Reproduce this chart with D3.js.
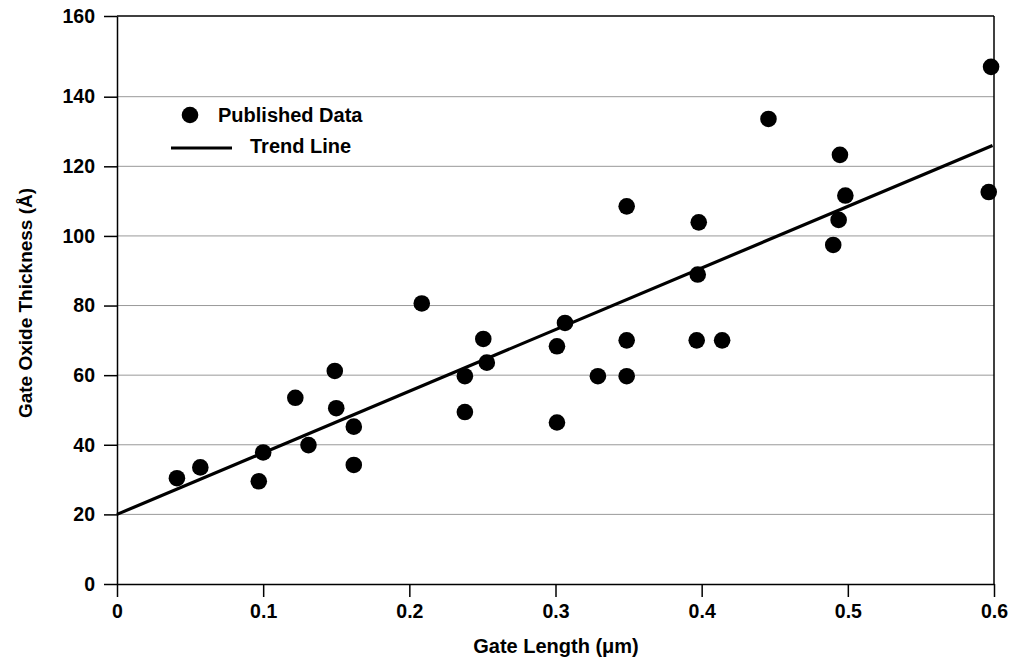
<!DOCTYPE html>
<html>
<head>
<meta charset="utf-8">
<script src="https://cdn.jsdelivr.net/npm/d3@7"></script>
<style>
  body { margin: 0; background: #fff; }
  text { font-family: "Liberation Sans", Arial, sans-serif; font-weight: bold; fill: #000; }
  .axis path, .axis line { stroke: #000; stroke-width: 1.5; }
  .grid line { stroke: #999; stroke-width: 1; }
</style>
</head>
<body>
<svg id="chart"></svg>
<script>
// published data points
const gateLength = [0.041, 0.057, 0.097, 0.100, 0.122, 0.131, 0.149, 0.150, 0.162, 0.162,
                    0.2085, 0.238, 0.238, 0.2506, 0.253,
                    0.301, 0.301, 0.3065, 0.329, 0.3487, 0.3487, 0.3487,
                    0.3966, 0.398, 0.3973, 0.414,
                    0.4457, 0.490, 0.4937, 0.4946, 0.4983, 0.5964, 0.598];
const oxideThickness = [30.4, 33.5, 29.5, 37.8, 53.5, 39.9, 61.2, 50.5, 45.2, 34.2,
                        80.6, 59.7, 49.4, 70.4, 63.6,
                        68.3, 46.4, 75.0, 59.7, 108.5, 70.0, 59.7,
                        70.0, 103.9, 88.9, 70.0,
                        133.6, 97.4, 104.6, 123.3, 111.6, 112.6, 147.4];

// trend line end points
const trendX = [0, 0.599];
const trendY = [20, 126];

const xTicks = [0, 0.1, 0.2, 0.3, 0.4, 0.5, 0.6];
const yTicks = [0, 20, 40, 60, 80, 100, 120, 140, 160];
const legendLabels = ["Published Data", "Trend Line"];

const margin = {top: 16, right: 17, bottom: 76, left: 117};
const W = 1011, H = 660;
const width = W - margin.left - margin.right;
const height = H - margin.top - margin.bottom;

const svg = d3.select("#chart").attr("width", W).attr("height", H);
const chart = svg.append("g").attr("transform", `translate(${margin.left},${margin.top})`);

const x = d3.scaleLinear().domain([0, 0.6]).range([0, width]);
// the original chart squeezes the top band a little, so the scale bends at 140
const y = d3.scaleLinear().domain([0, 140, 160]).range([height, 80.7, 0]);

// gridlines
chart.append("g").attr("class", "grid")
  .selectAll("line")
  .data(yTicks.filter(d => d > 0 && d < 160))
  .join("line")
    .attr("x1", 0).attr("x2", width)
    .attr("y1", d => y(d)).attr("y2", d => y(d));

// frame: top and right borders
chart.append("line").attr("x1", 0).attr("x2", width).attr("y1", 0).attr("y2", 0)
  .attr("stroke", "#000").attr("stroke-width", 1.5);
chart.append("line").attr("x1", width).attr("x2", width).attr("y1", 0).attr("y2", height)
  .attr("stroke", "#000").attr("stroke-width", 1.5);

// axes
const xAxis = d3.axisBottom(x).tickValues(xTicks).tickSize(13).tickSizeOuter(0).tickPadding(7)
  .tickFormat(d => d === 0 ? "0" : d3.format(".1f")(d));
const yAxis = d3.axisLeft(y).tickValues(yTicks).tickSize(13).tickSizeOuter(0).tickPadding(9)
  .tickFormat(d3.format("d"));

chart.append("g").attr("class", "axis x-axis")
  .attr("transform", `translate(0,${height})`)
  .call(xAxis)
  .call(g => g.selectAll("text").attr("font-size", 19.5));

chart.append("g").attr("class", "axis y-axis")
  .call(yAxis)
  .call(g => g.selectAll("text").attr("font-size", 19.5));

svg.selectAll(".axis").attr("font-family", null);

// axis titles
svg.append("text")
  .attr("x", 556).attr("y", 653)
  .attr("text-anchor", "middle")
  .attr("font-size", 20)
  .text("Gate Length (\u03bcm)");

svg.append("text")
  .attr("transform", "translate(32,303) rotate(-90)")
  .attr("text-anchor", "middle")
  .attr("font-size", 19)
  .text("Gate Oxide Thickness (\u00c5)");

// trend line
const line = d3.line().x(d => x(d[0])).y(d => y(d[1]));
chart.append("path")
  .datum(trendX.map((v, i) => [v, trendY[i]]))
  .attr("d", line)
  .attr("fill", "none")
  .attr("stroke", "#000")
  .attr("stroke-width", 3.2);

// data points
chart.selectAll("circle.pt")
  .data(gateLength.map((v, i) => ({x: v, y: oxideThickness[i]})))
  .join("circle")
    .attr("class", "pt")
    .attr("cx", d => x(d.x))
    .attr("cy", d => y(d.y))
    .attr("r", 8.3)
    .attr("fill", "#000");

// legend
const legend = svg.append("g").attr("transform", "translate(170,115)");
legend.append("circle").attr("cx", 20).attr("cy", 0).attr("r", 8.3).attr("fill", "#000");
legend.append("text").attr("x", 48).attr("y", 7).attr("font-size", 20).text(legendLabels[0]);
legend.append("line").attr("x1", 1).attr("x2", 62).attr("y1", 33).attr("y2", 33)
  .attr("stroke", "#000").attr("stroke-width", 3.2);
legend.append("text").attr("x", 80).attr("y", 38).attr("font-size", 20).text(legendLabels[1]);
</script>
</body>
</html>
